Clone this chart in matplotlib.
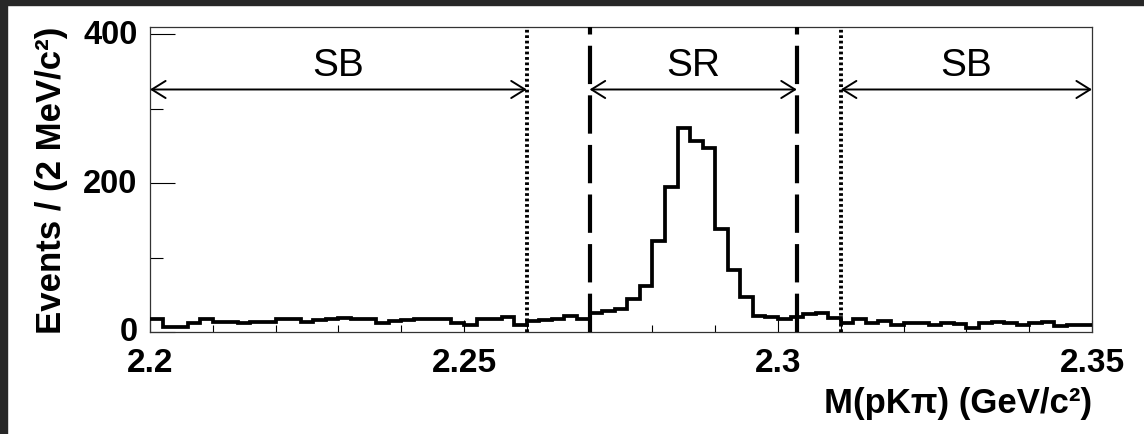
import matplotlib.pyplot as plt
import numpy as np
from matplotlib.patches import Rectangle
from matplotlib.ticker import FixedLocator, MultipleLocator

plt.rcParams['font.family'] = ['Liberation Sans', 'DejaVu Sans']

# M(pK pi) spectrum, 2 MeV bins from 2.20 to 2.35 GeV
mass_lo = 2.20
bin_width = 0.002
counts = [17, 7, 7, 12, 18, 14, 13, 12, 14, 14,
          17, 17, 14, 16, 18, 19, 18, 18, 12, 15,
          16, 17, 18, 18, 12, 9, 17, 18, 20, 10,
          15, 16, 18, 21, 18, 25, 28, 31, 44, 62,
          122, 195, 274, 257, 248, 139, 84, 47, 22, 20,
          17, 20, 24, 26, 19, 12, 17, 12, 15, 10,
          12, 12, 10, 12, 11, 5, 12, 14, 12, 9,
          12, 14, 8, 10, 10]

# sideband / signal region boundaries (GeV)
sb_low = (2.20, 2.26)
sig_region = (2.27, 2.303)
sb_high = (2.31, 2.35)
region_names = ["SB", "SR", "SB"]

x_ticks = [2.2, 2.25, 2.3, 2.35]
x_tick_labels = ["2.2", "2.25", "2.3", "2.35"]
y_ticks = [0, 200, 400]
y_tick_labels = ["0", "200", "400"]
y_max = 410

edges = mass_lo + bin_width * np.arange(len(counts) + 1)

fig = plt.figure(figsize=(11.44, 4.35), dpi=100)
fig.patch.set_facecolor('white')
# dark frame along the top and left edges
fig.patches.append(Rectangle((0, 1 - 6 / 435), 1, 6 / 435, transform=fig.transFigure,
                             color='#272727', zorder=0))
fig.patches.append(Rectangle((0, 0), 7 / 1144, 1, transform=fig.transFigure,
                             color='#272727', zorder=0))

ax = fig.add_axes([150 / 1144, 102 / 435, 942 / 1144, 305 / 435])
ax.stairs(counts, edges, color='black', lw=2.7, baseline=None, zorder=3)

ax.set_xlim(edges[0], edges[-1])
ax.set_ylim(0, y_max)

# region boundaries
for x in (sb_low[1], sb_high[0]):
    ax.axvline(x, color='black', lw=2.8, linestyle=(0, (0.7, 0.7)), zorder=4)
for x in sig_region:
    ax.axvline(x, color='black', lw=3.0, linestyle=(0, (9.2, 2.7)), zorder=4)

arrow_y = 326
label_y = 345
for (a, b), name in zip([sb_low, sig_region, sb_high], region_names):
    ax.annotate('', xy=(b, arrow_y), xytext=(a, arrow_y),
                arrowprops=dict(arrowstyle='<->, head_length=0.45, head_width=0.28',
                                color='black', lw=1.4, mutation_scale=22,
                                shrinkA=0, shrinkB=0), zorder=5)
    ax.text((a + b) / 2, label_y, name, ha='center', va='baseline', fontsize=28)

ax.xaxis.set_major_locator(FixedLocator(x_ticks))
ax.set_xticklabels(x_tick_labels)
ax.xaxis.set_minor_locator(MultipleLocator(0.01))
ax.yaxis.set_major_locator(FixedLocator(y_ticks))
ax.set_yticklabels(y_tick_labels)
ax.yaxis.set_minor_locator(MultipleLocator(100))

ax.tick_params(axis='x', which='major', direction='in', length=8.6, width=0.8,
               labelsize=24, pad=11)
ax.tick_params(axis='x', which='minor', direction='in', length=5, width=0.8)
ax.tick_params(axis='y', which='major', direction='in', length=18, width=0.8,
               labelsize=23.5, pad=9)
ax.tick_params(axis='y', which='minor', direction='in', length=9.4, width=0.8)
for lab in ax.get_xticklabels() + ax.get_yticklabels():
    lab.set_fontweight('bold')
for lab in ax.get_yticklabels():
    lab.set_verticalalignment('center')

for sp in ax.spines.values():
    sp.set_linewidth(0.9)
    sp.set_color('#333333')

fig.text(52 / 1144, 1 - 180 / 435, 'Events / (2 MeV/c²)', rotation=90,
         ha='center', va='center', fontsize=25, fontweight='bold')
fig.text(1092 / 1144, 22 / 435, 'M(pKπ) (GeV/c²)', ha='right', va='baseline',
         fontsize=25, fontweight='bold')

fig.savefig('out.png', dpi=100)
